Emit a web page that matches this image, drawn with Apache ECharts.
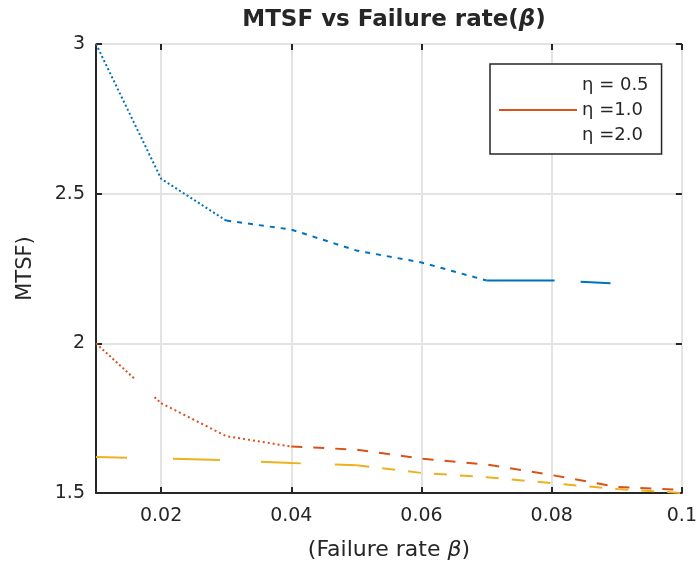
<!DOCTYPE html>
<html>
<head>
<meta charset="utf-8">
<script src="https://cdn.jsdelivr.net/npm/echarts@6/dist/echarts.min.js"></script>
<style>
  html, body { margin: 0; padding: 0; background: #fff; }
  #chart { width: 700px; height: 570px; }
</style>
</head>
<body>
<div id="chart"></div>
<script>
  // failure rate (x) and MTSF for each eta
  let betaValues = [0.01, 0.02, 0.03, 0.04, 0.05, 0.06, 0.07, 0.08, 0.09, 0.1]
  let mtsfEta05 = [3.00, 2.55, 2.41, 2.38, 2.31, 2.27, 2.21, 2.21, 2.20]
  let mtsfEta10 = [2.00, 1.80, 1.69, 1.655, 1.645, 1.615, 1.595, 1.56, 1.52, 1.51]
  let mtsfEta20 = [1.62, 1.615, 1.61, 1.60, 1.593, 1.567, 1.553, 1.533, 1.513, 1.50]
  let seriesNames = ['η = 0.5', 'η =1.0', 'η =2.0']

  const textColor = '#262626'
  const gridColor = '#e3e3e3'
  const font = 'DejaVu Sans'
  const clear = 'rgba(0,0,0,0)'

  // a run of dots of roughly len px, as a dash array
  function dots(len, dot, gap) {
    let arr = []
    for (let s = 0; s < len; s += dot + gap) arr.push(dot, gap)
    return arr
  }
  function pts(values, from, to) {
    let out = []
    for (let i = from; i <= to && i < values.length; i++) out.push([betaValues[i], values[i]])
    return out
  }

  let orangeStart = dots(50, 2, 2.5)
  orangeStart[orangeStart.length - 1] = 28
  orangeStart = orangeStart.concat(dots(40, 2, 2.5))

  // line pieces: [values, name, color, from, to, dash]
  let pieces = [
    [mtsfEta05, 0, '#0072BD', 0, 2, [2, 2.5]],
    [mtsfEta05, 0, '#0072BD', 2, 6, [5, 6]],
    [mtsfEta05, 0, '#0072BD', 6, 8, [68, 26, 30, 40]],
    [mtsfEta10, 1, '#D95319', 0, 1, orangeStart],
    [mtsfEta10, 1, '#D95319', 1, 3, [2, 3]],
    [mtsfEta10, 1, '#D95319', 3, 9, [11, 11]],
    [mtsfEta20, 2, '#EDB120', 0, 4, [31, 46, 47, 41, 40, 34, 27, 11]],
    [mtsfEta20, 2, '#EDB120', 4, 9, [13, 13]]
  ]

  let series = pieces.map(p => ({
    name: seriesNames[p[1]],
    type: 'line',
    symbol: 'none',
    showSymbol: false,
    silent: true,
    color: p[2],
    lineStyle: { width: 2, color: p[2], type: p[5], cap: 'butt' },
    data: pts(p[0], p[3], p[4])
  }))

  let chart = echarts.init(document.getElementById('chart'))
  chart.setOption({
    animation: false,
    title: {
      text: '{a|MTSF vs Failure rate(}{b|β}{a|)}',
      left: 389,
      top: 4,
      textAlign: 'center',
      textStyle: {
        rich: {
          a: { fontFamily: font, fontWeight: 'bold', fontSize: 23, color: textColor },
          b: { fontFamily: font, fontWeight: 'bold', fontStyle: 'italic', fontSize: 23, color: textColor }
        }
      }
    },
    grid: { left: 96, right: 18, top: 44, bottom: 77 },
    legend: {
      orient: 'vertical',
      left: 490,
      top: 64,
      padding: [12, 13, 10, 8],
      itemWidth: 78,
      itemHeight: 14,
      itemGap: 7,
      borderColor: textColor,
      borderWidth: 1.5,
      backgroundColor: '#fff',
      textStyle: { fontFamily: font, fontSize: 18, color: textColor },
      data: [
        { name: seriesNames[0], lineStyle: { color: clear }, itemStyle: { color: clear, borderWidth: 0 } },
        { name: seriesNames[1], lineStyle: { color: '#D95319', type: 'solid', width: 2 }, itemStyle: { color: clear, borderWidth: 0 } },
        { name: seriesNames[2], lineStyle: { color: clear }, itemStyle: { color: clear, borderWidth: 0 } }
      ]
    },
    xAxis: [{
      type: 'value',
      min: 0.01,
      max: 0.1,
      splitNumber: 5,
      name: '{a|(Failure rate }{b|β}{a|)}',
      nameLocation: 'middle',
      nameGap: 46,
      nameTextStyle: {
        rich: {
          a: { fontFamily: font, fontSize: 22, color: textColor },
          b: { fontFamily: font, fontStyle: 'italic', fontSize: 22, color: textColor }
        }
      },
      axisLine: { lineStyle: { color: textColor, width: 2 } },
      axisTick: { inside: true, length: 6, lineStyle: { color: textColor, width: 2 } },
      axisLabel: { showMinLabel: false, margin: 14, fontFamily: font, fontSize: 19, color: textColor },
      splitLine: { show: true, lineStyle: { color: gridColor, width: 2 } }
    }, {
      type: 'value',
      position: 'top',
      min: 0.01,
      max: 0.1,
      splitNumber: 5,
      axisLine: { show: true, lineStyle: { color: gridColor, width: 2 } },
      axisTick: { inside: true, length: 6, lineStyle: { color: textColor, width: 2 } },
      axisLabel: { show: false },
      splitLine: { show: false }
    }],
    yAxis: [{
      type: 'value',
      min: 1.5,
      max: 3,
      interval: 0.5,
      name: 'MTSF)',
      nameLocation: 'middle',
      nameGap: 60,
      nameTextStyle: { fontFamily: font, fontSize: 21, color: textColor },
      axisLine: { show: true, lineStyle: { color: textColor, width: 2 } },
      axisTick: { show: true, inside: true, length: 6, lineStyle: { color: textColor, width: 2 } },
      axisLabel: { margin: 11, fontFamily: font, fontSize: 19, color: textColor },
      splitLine: { show: true, lineStyle: { color: gridColor, width: 2 } }
    }, {
      type: 'value',
      position: 'right',
      min: 1.5,
      max: 3,
      interval: 0.5,
      axisLine: { show: false },
      axisTick: { show: true, inside: true, length: 6, lineStyle: { color: textColor, width: 2 } },
      axisLabel: { show: false },
      splitLine: { show: false }
    }],
    series: series
  })
</script>
</body>
</html>
